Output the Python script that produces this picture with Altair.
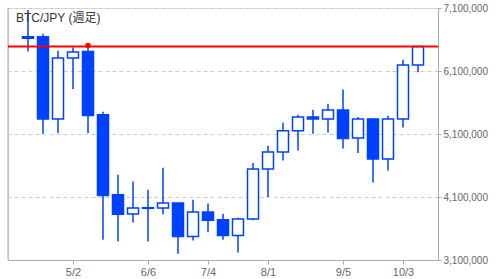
import altair as alt
import pandas as pd

# Weekly BTC/JPY candles (weeks starting Sunday, 2021)
dates = ["2021-04-11", "2021-04-18", "2021-04-25", "2021-05-02", "2021-05-09", "2021-05-16",
         "2021-05-23", "2021-05-30", "2021-06-06", "2021-06-13", "2021-06-20", "2021-06-27",
         "2021-07-04", "2021-07-11", "2021-07-18", "2021-07-25", "2021-08-01", "2021-08-08",
         "2021-08-15", "2021-08-22", "2021-08-29", "2021-09-05", "2021-09-12", "2021-09-19",
         "2021-09-26", "2021-10-03", "2021-10-10"]
opens = [6645000, 6645000, 5340000, 6305000, 6410000, 5405000, 4135000, 3830000, 3920000,
         3925000, 4005000, 3475000, 3860000, 3740000, 3490000, 3750000, 4545000, 4815000,
         5150000, 5370000, 5340000, 5480000, 5035000, 5340000, 4705000, 5340000, 6195000]
highs = [7070000, 6690000, 6420000, 6475000, 6505000, 5455000, 4455000, 4345000, 4215000,
         4565000, 4010000, 4055000, 3995000, 3835000, 3770000, 4640000, 4915000, 5280000,
         5405000, 5485000, 5580000, 5805000, 5370000, 5345000, 5390000, 6280000, 6490000]
lows = [6410000, 5105000, 5115000, 5815000, 5115000, 3420000, 3395000, 3695000, 3395000,
        3825000, 3200000, 3410000, 3540000, 3420000, 3220000, 3730000, 4100000, 4680000,
        4840000, 5105000, 5125000, 4870000, 4800000, 4330000, 4520000, 5205000, 6080000]
closes = [6620000, 5340000, 6305000, 6400000, 5395000, 4125000, 3825000, 3925000, 3930000,
          4005000, 3475000, 3860000, 3730000, 3490000, 3750000, 4545000, 4815000, 5150000,
          5370000, 5340000, 5480000, 5030000, 5340000, 4705000, 5340000, 6195000, 6490000]

y_ticks = [3100000, 4100000, 5100000, 6100000, 7100000]
x_ticks = [(5, 2), (6, 6), (7, 4), (8, 1), (9, 5), (10, 3)]
title_text = "BTC/JPY (週足)"

BLUE = "#0040ff"
FONT = "Liberation Sans"

df = pd.DataFrame({"date": dates, "open": opens, "high": highs, "low": lows, "close": closes})
price_df = pd.DataFrame({"price": [closes[-1]]})
mark_df = pd.DataFrame({"date": [dates[4]], "price": [highs[4]]})
title_df = pd.DataFrame({"t": [title_text]})

x_scale = alt.Scale(type="utc",
                    domain=[alt.DateTime(year=2021, month=4, date=4, utc=True),
                            alt.DateTime(year=2021, month=10, date=17, utc=True)])
x_axis = alt.Axis(values=[alt.DateTime(year=2021, month=m, date=d, utc=True) for m, d in x_ticks],
                  labelExpr="utcFormat(datum.value, '%-m/%-d')",
                  grid=False, domainColor="#aaaaaa", tickColor="#aaaaaa", tickSize=4,
                  labelFontSize=11, labelColor="#666666", labelPadding=2, labelFlush=False,
                  labelFont=FONT)
y_scale = alt.Scale(domain=[3100000, 7100000], nice=False, zero=False)
y_axis = alt.Axis(orient="right", values=y_ticks, format=",d", grid=True, gridDash=[4, 3],
                  gridColor="#cccccc", domainColor="#aaaaaa", tickColor="#aaaaaa", tickSize=3,
                  labelFontSize=10, labelColor="#666666", labelPadding=2, labelFont=FONT)

X = alt.X("date:T", scale=x_scale, axis=x_axis, title=None)

wicks = alt.Chart(df).mark_rule(color=BLUE, strokeWidth=1.5).encode(
    x=X,
    y=alt.Y("low:Q", scale=y_scale, axis=y_axis, title=None),
    y2="high:Q",
)

bodies = alt.Chart(df).mark_bar(size=11, stroke=BLUE, strokeWidth=1.5).encode(
    x=X,
    y=alt.Y("open:Q", scale=y_scale, axis=y_axis, title=None),
    y2="close:Q",
    fill=alt.condition("datum.close > datum.open", alt.value("white"), alt.value(BLUE)),
)

left_line = alt.Chart(title_df).mark_rule(color="#aaaaaa", strokeWidth=1).encode(
    x=alt.value(0), y=alt.value(0), y2=alt.value(252)
)

red_line = alt.Chart(price_df).mark_rule(color="#ff0000", strokeWidth=2).encode(
    y=alt.Y("price:Q", scale=y_scale, axis=y_axis, title=None)
)

red_dot = alt.Chart(mark_df).mark_point(filled=True, color="#ff0000", size=30, opacity=1).encode(
    x=X,
    y=alt.Y("price:Q", scale=y_scale, axis=y_axis, title=None),
)

title = alt.Chart(title_df).mark_text(align="left", baseline="middle", fontSize=12,
                                      color="#333333", font=FONT + ", Noto Sans CJK JP").encode(
    x=alt.value(8), y=alt.value(10), text="t:N"
)

chart = alt.layer(left_line, wicks, bodies, red_line, red_dot, title).properties(
    width=430, height=252,
    autosize=alt.AutoSizeParams(type="none"),
    padding={"left": 8, "top": 8, "right": 58, "bottom": 19},
    background="white",
).configure_view(stroke=None).configure(font=FONT)

chart.save("out.html", embed_options={"renderer": "svg", "actions": False})
